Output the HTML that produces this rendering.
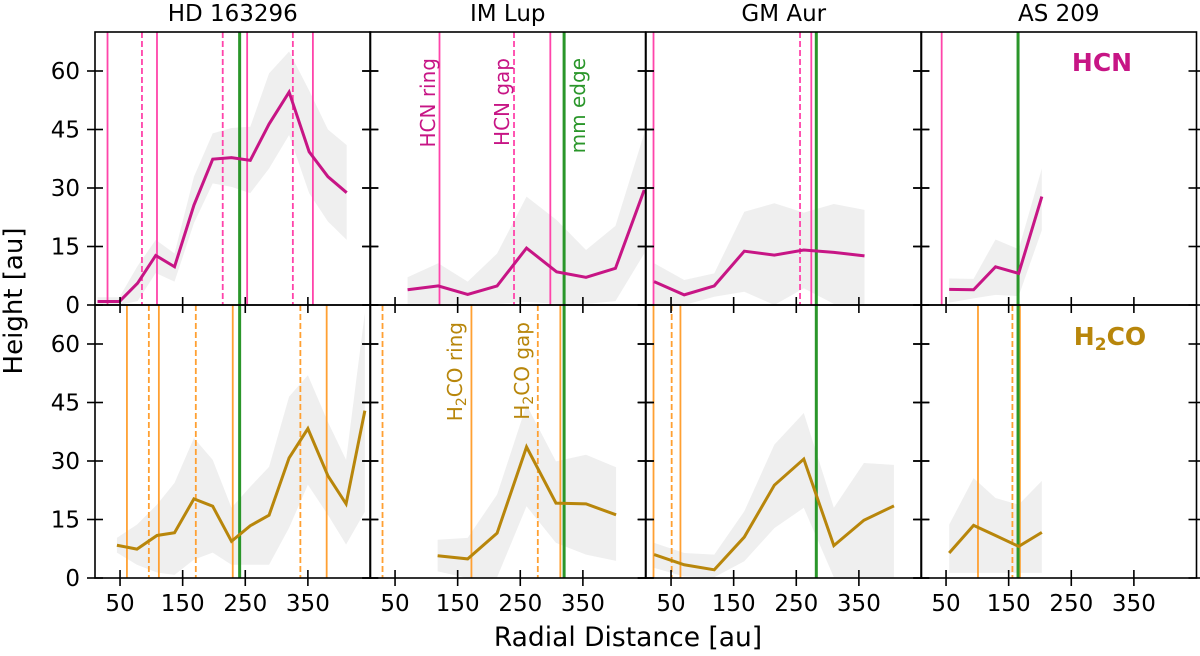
<!DOCTYPE html>
<html><head><meta charset="utf-8"><style>
html,body{margin:0;padding:0;background:#fff;}
svg{display:block;font-family:"DejaVu Sans","Liberation Sans",sans-serif;}
</style></head><body>
<svg id="chart" width="1200" height="656" viewBox="0 0 1200 656" xmlns="http://www.w3.org/2000/svg"></svg>
<script>
const diskNames = ["HD 163296","IM Lup","GM Aur","AS 209"];
const xTicks = [50,150,250,350];
const yTicks = [0,15,30,45,60];
// HCN series
const hcnR = [
 [14,49,78,107,137,168,198,228,258,288,320,352,382,412],
 [70,119,166,213,260,308,355,402,448],
 [23,71,119,167,215,262,310,359],
 [55,94,129,166,203]];
const hcnH = [
 [0.9,0.9,5.6,12.7,9.8,25.6,37.4,37.8,37.1,46.4,54.6,39.3,32.9,28.8],
 [3.9,4.9,2.7,4.9,14.6,8.5,7.1,9.4,29.5],
 [6,2.6,4.9,13.8,12.8,14.1,13.5,12.6],
 [4,3.9,9.8,8.1,27.8]];
const hcnUp = [
 [2,2,10,16.7,13.2,32.9,44,45.4,45.7,59.4,65,55,45,41],
 [7.1,10.7,6,13.2,27.8,21.8,14.1,20.3,44],
 [10.7,6.4,8.1,23.9,26.1,23.7,25.9,24.4],
 [6.8,6.7,16.8,14.3,35]];
const hcnLo = [
 [0,0,1,8.2,6,21,31.2,30.3,28.7,35,43.6,28.7,21.4,16.7],
 [0.3,0.3,0.3,0.3,0.8,0.3,0.3,1,13.2],
 [0.3,0,2.1,3.4,0,4.3,0.3,0.3],
 [0.6,1.7,2.6,2.3,19.2]];
// H2CO series
const h2coR = [
 [45,77,109,137,168,198,228,258,288,320,350,382,411,441],
 [118,166,213,260,307,355,403],
 [23,71,119,167,215,262,310,358,406],
 [55,94,129,166,203]];
const h2coH = [
 [8.4,7.4,10.9,11.6,20.3,18.4,9.4,13.4,16.1,30.8,38.3,26.2,19,42.9],
 [5.7,4.9,11.5,33.6,19.2,19,16.2],
 [6,3.4,2.1,10.5,23.8,30.5,8.3,14.8,18.5],
 [6.4,13.5,10.9,8.1,11.7]];
const h2coUp = [
 [10.3,13.7,18.8,24.4,35.9,30.3,18,23.4,28.5,46.5,52,40,30.3,68],
 [9.8,10.3,21.4,44.4,29.9,31.6,28.4],
 [9,6.4,6,17.1,34.2,42.3,18,29.5,29],
 [13.7,25.6,20.5,18.8,24.9]];
const h2coLo = [
 [6.5,3.4,1.4,0.8,4.7,6.5,3.4,3.4,3.4,12.9,23.9,16.2,8.6,17],
 [1.7,0,0.2,18.4,9,6,4.4],
 [2.6,0.4,0.2,4.3,12.8,18,0.2,0.2,0.2],
 [1.3,1.3,1.3,1.3,1.3]];
// feature radii
const hcnRings = [[30,109,253,358],[121,298],[22,274],[43]];
const hcnGaps = [[85,214,326],[240],[256],[]];
const h2coRings = [[61,112,230,380],[172,314],[22,65],[101,168]];
const h2coGaps = [[96,171,338],[30,278],[51],[156]];
const mmEdge = [241,320,282,165];

const NS="http://www.w3.org/2000/svg";
const svg=document.getElementById('chart');
const lefts=[95,370,646,921], W=275.5, rowTop=[32,305], PH=273;
const X0=10,X1=450,Y1=70;
function xs(p,d){return lefts[p]+(d-X0)*W/(X1-X0);}
function ys(r,v){return rowTop[r]+PH-v*PH/Y1;}
function mk(tag,attrs,parent){const e=document.createElementNS(NS,tag);for(const k in attrs)e.setAttribute(k,attrs[k]);(parent||svg).appendChild(e);return e;}
const defs=mk('defs',{});
for(let p=0;p<4;p++)for(let r=0;r<2;r++){const c=mk('clipPath',{id:'c'+p+r},defs);mk('rect',{x:lefts[p],y:rowTop[r],width:W,height:PH},c);}

function panel(p,r,R,H,U,L,col,rings,gaps,lname){
  const g=mk('g',{'clip-path':'url(#c'+p+r+')'});
  
  
  let pts=R.map((d,i)=>xs(p,d)+','+ys(r,U[i]));
  for(let i=R.length-1;i>=0;i--)pts.push(xs(p,R[i])+','+ys(r,L[i]));
  const band=mk('polygon',{points:pts.join(' '),fill:'#efefef'},g);
  
  
  const vc=r===0?'#ff44aa':'#ffa032';
  rings.forEach(d=>{const l=mk('line',{x1:xs(p,d),x2:xs(p,d),y1:rowTop[r],y2:rowTop[r]+PH,stroke:vc,'stroke-width':1.8},g);
    
    });
  gaps.forEach(d=>{const l=mk('line',{x1:xs(p,d),x2:xs(p,d),y1:rowTop[r],y2:rowTop[r]+PH,stroke:vc,'stroke-width':1.8,'stroke-dasharray':'6,3'},g);
    
    });
  const e=mk('line',{x1:xs(p,mmEdge[p]),x2:xs(p,mmEdge[p]),y1:rowTop[r],y2:rowTop[r]+PH,stroke:'#2a962a','stroke-width':3},g);
  
  
  const ln=mk('polyline',{points:R.map((d,i)=>xs(p,d)+','+ys(r,H[i])).join(' '),fill:'none',stroke:col,'stroke-width':3,'stroke-linejoin':'miter'},g);
  
  
}
for(let p=0;p<4;p++){
  panel(p,0,hcnR[p],hcnH[p],hcnUp[p],hcnLo[p],'#c71585',hcnRings[p],hcnGaps[p],'hcn');
  panel(p,1,h2coR[p],h2coH[p],h2coUp[p],h2coLo[p],'#b8860b',h2coRings[p],h2coGaps[p],'h2co');
}
for(let p=0;p<4;p++)for(let r=0;r<2;r++){
  const f=mk('rect',{x:lefts[p],y:rowTop[r],width:W,height:PH,fill:'none',stroke:'#000','stroke-width':1.6});
  
  
  yTicks.forEach(v=>{[lefts[p],lefts[p]+W].forEach(x=>{const t=mk('line',{x1:x-8,x2:x+8,y1:ys(r,v),y2:ys(r,v),stroke:'#000','stroke-width':1.6});
    
    });});
  xTicks.forEach(v=>{const y=rowTop[r]+PH;const t=mk('line',{x1:xs(p,v),x2:xs(p,v),y1:y-8,y2:y+8,stroke:'#000','stroke-width':1.6});
    
    });
}
function txt(s,a,name){const t=mk('text',a);t.textContent=s;return t;}
for(let r=0;r<2;r++)yTicks.forEach(v=>txt(String(v),{x:80,y:ys(r,v)+8,'font-size':23,'text-anchor':'end'},'y-tick-label'));
for(let p=0;p<4;p++){
  xTicks.forEach(v=>txt(String(v),{x:xs(p,v),y:611,'font-size':23,'text-anchor':'middle'},'x-tick-label'));
  txt(diskNames[p],{x:lefts[p]+W/2,y:21,'font-size':23,'text-anchor':'middle'},'panel-title');
}
txt('Radial Distance [au]',{x:628,y:646,'font-size':26.5,'text-anchor':'middle'},'x-axis-title');
txt('Height [au]',{x:0,y:0,'font-size':26,'text-anchor':'middle',transform:'translate(22,301) rotate(-90)'},'y-axis-title');
txt('HCN',{x:1102,y:71,'font-size':25,'font-weight':'bold','text-anchor':'middle',fill:'#c71585'},'hcn-label');
const h2=mk('text',{x:1110,y:345,'font-size':25,'font-weight':'bold','text-anchor':'middle',fill:'#b8860b'});


h2.innerHTML='H<tspan font-size="17" dy="5">2</tspan><tspan dy="-5">CO</tspan>';
function rot(s,x,y,col,name,sub){const t=mk('text',{x:0,y:0,'font-size':20,'text-anchor':'end',fill:col,transform:'translate('+x+','+y+') rotate(-90)'});
  
  if(sub)t.innerHTML='H<tspan font-size="14" dy="4">2</tspan><tspan dy="-4">'+s+'</tspan>';else t.textContent=s;}
rot('HCN ring',435,58,'#c71585','hcn-ring-annotation');
rot('HCN gap',509,58,'#c71585','hcn-gap-annotation');
rot('mm edge',585,58,'#2a962a','mm-edge-annotation');
rot('CO ring',462,322,'#b8860b','h2co-ring-annotation',true);
rot('CO gap',529,322,'#b8860b','h2co-gap-annotation',true);
</script>
</body></html>
